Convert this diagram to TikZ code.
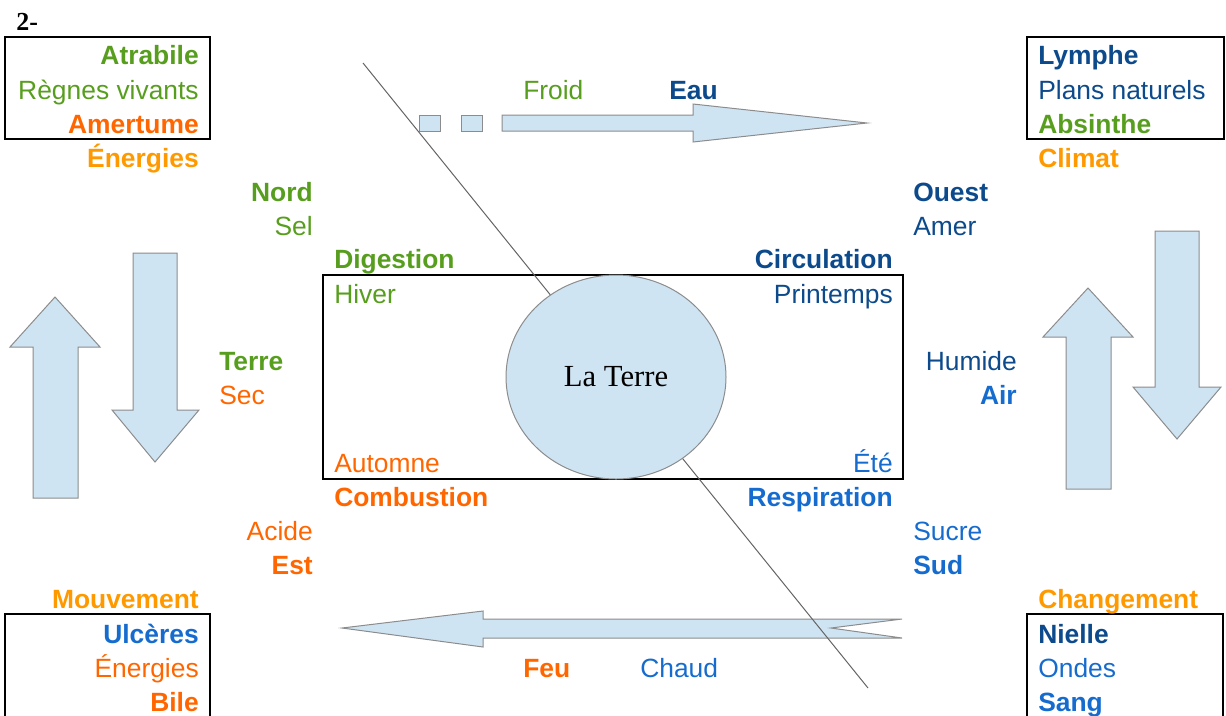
\documentclass[tikz,border=0pt]{standalone}
\usepackage{fontspec}
\setmainfont{Liberation Sans}
\newfontfamily\serifface{Liberation Serif}
\usetikzlibrary{shapes.geometric}
\definecolor{cgreen}{RGB}{88,158,30}
\definecolor{corange}{RGB}{255,102,0}
\definecolor{clight}{RGB}{255,153,0}
\definecolor{cdark}{RGB}{12,74,140}
\definecolor{cmed}{RGB}{21,108,206}
\definecolor{arrowblue}{RGB}{207,228,243}
\definecolor{arrowgray}{RGB}{140,140,140}
\definecolor{linegray}{RGB}{100,100,100}
\tikzset{
  lbl/.style={inner sep=0pt, font=\fontsize{19.8}{24}\selectfont},
  blbl/.style={inner sep=0pt, font=\fontsize{19.8}{24}\selectfont\bfseries},
  le/.style={anchor=base east},
  lw/.style={anchor=base west},
  arrowshape/.style={draw=arrowgray, fill=arrowblue, line width=0.75pt, line join=miter},
  frame/.style={draw=black, line width=1.5pt},
}
\begin{document}
\begin{tikzpicture}[x=0.75pt, y=-0.75pt]
\useasboundingbox (0,0) rectangle (1226,715);
\clip (0,0) rectangle (1226,715);
% boxes
\draw[frame] (5,37) rectangle (210,139);
\draw[frame] (1027,37) rectangle (1224,139);
\draw[frame] (5,614) rectangle (210,730);
\draw[frame] (1027,614) rectangle (1223,730);
\draw[frame] (323,275) rectangle (903,479);
% arrows
\draw[arrowshape] (419,115) rectangle (440,131);
\draw[arrowshape] (461,115) rectangle (482,131);
\draw[arrowshape] (502,115) -- (693,115) -- (693,104) -- (867,123) -- (693,142) -- (693,131) -- (502,131) -- cycle;
\draw[arrowshape] (342,628) -- (483,611) -- (483,619) -- (902,619) -- (831,628) -- (902,638) -- (483,638) -- (483,647) -- cycle;
\draw[arrowshape] (55,297) -- (100,347) -- (78,347) -- (78,498) -- (33,498) -- (33,347) -- (10,347) -- cycle;
\draw[arrowshape] (133,253) -- (177,253) -- (177,410) -- (199,410) -- (155,462) -- (112,410) -- (133,410) -- cycle;
\draw[arrowshape] (1088,288) -- (1133,337) -- (1111,337) -- (1111,489) -- (1066,489) -- (1066,337) -- (1043,337) -- cycle;
\draw[arrowshape] (1155,231) -- (1199,231) -- (1199,387) -- (1221,387) -- (1177,439) -- (1133,387) -- (1155,387) -- cycle;
% diagonal line
\coordinate (lt) at (363,63);
\coordinate (lb) at (868,688);
\draw[linegray, line width=0.75pt] (lt) -- (lb);
% earth
\node[ellipse, draw=arrowgray, fill=arrowblue, line width=0.75pt, minimum width=165pt, minimum height=153pt, inner sep=0pt, font=\serifface\fontsize{23}{28}\selectfont] (earth) at (616,377) {La Terre};
% title
\node[inner sep=0pt, anchor=base west, font=\serifface\fontsize{19.5}{24}\selectfont\bfseries] (title) at (16,30) {2-};
% top-left
\node[blbl,le,cgreen] (atra) at (199,64) {Atrabile};
\node[lbl,le,cgreen] (regn) at (199,99) {Règnes vivants};
\node[blbl,le,corange] (amer1) at (199,133) {Amertume};
\node[blbl,le,clight] (ener1) at (199,167) {Énergies};
\node[blbl,le,cgreen] (nord) at (313,201) {Nord};
\node[lbl,le,cgreen] (sel) at (313,235) {Sel};
% top
\node[lbl,lw,cgreen] (froid) at (523,99) {Froid};
\node[blbl,lw,cdark] (eau) at (669,99) {Eau};
% top-right
\node[blbl,lw,cdark] (lymph) at (1038,64) {Lymphe};
\node[lbl,lw,cdark] (plans) at (1038,99) {Plans naturels};
\node[blbl,lw,cgreen] (absin) at (1038,133) {Absinthe};
\node[blbl,lw,clight] (climat) at (1038,167) {Climat};
\node[blbl,lw,cdark] (ouest) at (913,201) {Ouest};
\node[lbl,lw,cdark] (amer2) at (913,235) {Amer};
% rectangle labels
\node[blbl,lw,cgreen] (dige) at (334,268) {Digestion};
\node[lbl,lw,cgreen] (hiver) at (334,303) {Hiver};
\node[blbl,le,cdark] (circ) at (893,268) {Circulation};
\node[lbl,le,cdark] (print) at (893,303) {Printemps};
\node[lbl,lw,corange] (autom) at (334,472) {Automne};
\node[blbl,lw,corange] (combu) at (334,506) {Combustion};
\node[lbl,le,cmed] (ete) at (893,472) {Été};
\node[blbl,le,cmed] (respi) at (893,506) {Respiration};
% sides
\node[blbl,lw,cgreen] (terre) at (219,370) {Terre};
\node[lbl,lw,corange] (sec) at (219,404) {Sec};
\node[lbl,le,cdark] (humid) at (1017,370) {Humide};
\node[blbl,le,cmed] (air) at (1017,404) {Air};
\node[lbl,le,corange] (acide) at (313,540) {Acide};
\node[blbl,le,corange] (est) at (313,574) {Est};
\node[lbl,lw,cmed] (sucre) at (913,540) {Sucre};
\node[blbl,lw,cmed] (sud) at (913,574) {Sud};
% bottom-left
\node[blbl,le,clight] (mouv) at (199,608) {Mouvement};
\node[blbl,le,cmed] (ulce) at (199,643) {Ulcères};
\node[lbl,le,corange] (ener2) at (199,677) {Énergies};
\node[blbl,le,corange] (bile) at (199,711) {Bile};
% bottom-right
\node[blbl,lw,clight] (chang) at (1038,608) {Changement};
\node[blbl,lw,cdark] (niel) at (1038,643) {Nielle};
\node[lbl,lw,cmed] (ondes) at (1038,677) {Ondes};
\node[blbl,lw,cmed] (sang) at (1038,711) {Sang};
% bottom
\node[blbl,lw,corange] (feu) at (523,677) {Feu};
\node[lbl,lw,cmed] (chaud) at (640,677) {Chaud};
\end{tikzpicture}
\end{document}
